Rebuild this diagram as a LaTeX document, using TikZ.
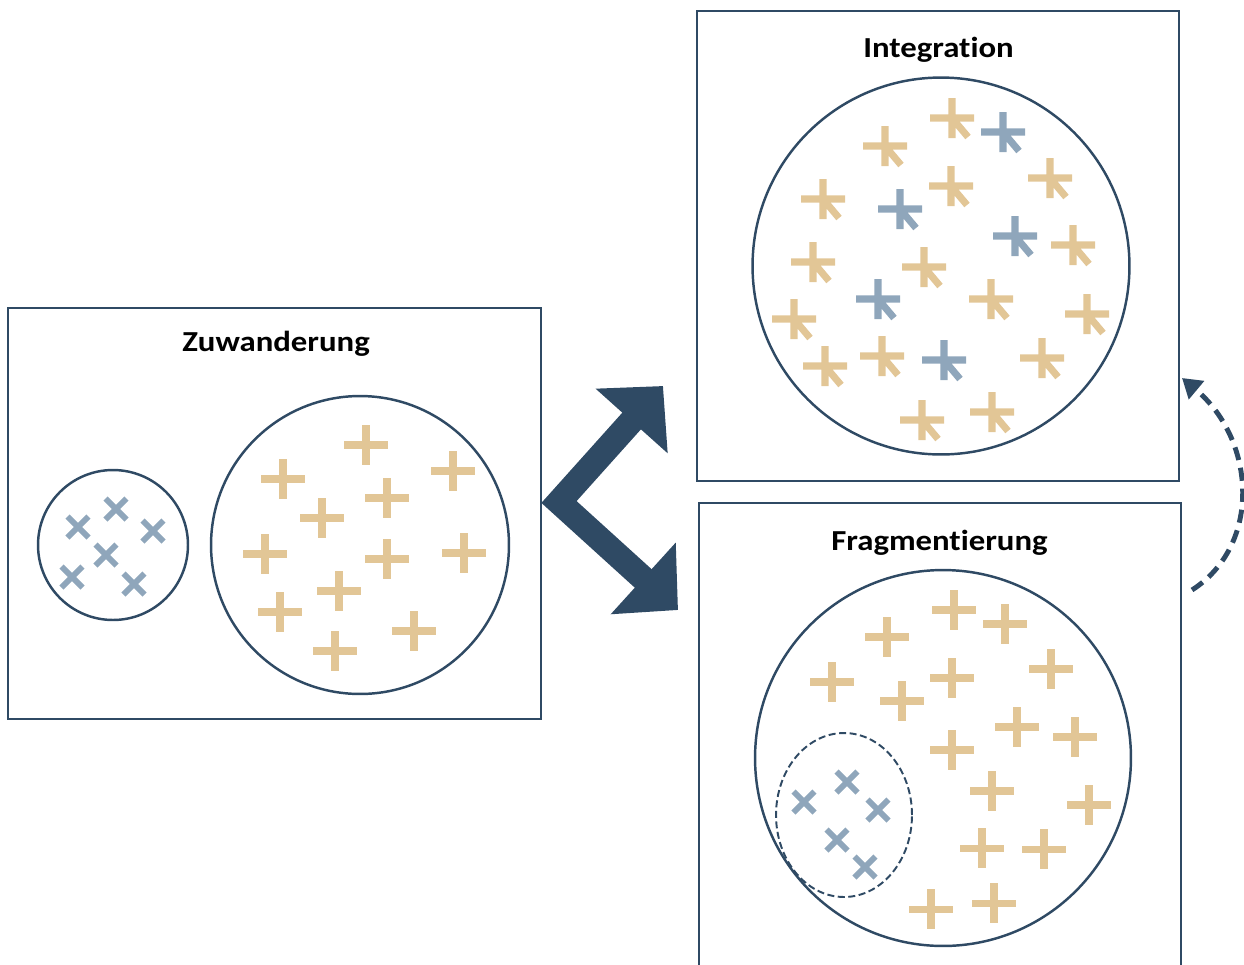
\documentclass[tikz,border=0pt]{standalone}
\usepackage{fontspec}
\setmainfont{Carlito}
\newfontfamily\titlefont{Carlito}[FakeStretch=1.13,Ligatures=NoCommon]
\definecolor{navy}{RGB}{47,74,100}
\definecolor{sand}{RGB}{226,198,150}
\definecolor{slate}{RGB}{143,166,187}
\usetikzlibrary{arrows.meta,shapes.geometric}
\tikzstyle{frame}=[draw=navy,line width=1.1pt,inner sep=0pt]
\tikzstyle{pool}=[draw=navy,line width=1.4pt,circle,inner sep=0pt]
\tikzstyle{title}=[font=\titlefont\bfseries\fontsize{16.5}{19}\selectfont,anchor=base]
\tikzstyle{symbar}=[line width=4pt]
\tikzset{
  pics/plussym/.style={code={\draw[symbar,sand] (-22,0) -- (22,0) (0,-20) -- (0,20);}},
  pics/crosssym/.style={code={\draw[slate,line width=3.4pt] (-10.5,-10.5) -- (10.5,10.5) (-10.5,10.5) -- (10.5,-10.5);}},
  pics/mixsym/.style={code={\draw[symbar,#1] (-22,0) -- (22,0) (0,-20) -- (0,20) (0,0) -- (16,19);}},
}

\begin{document}
\begin{tikzpicture}[x=0.02cm,y=-0.02cm]
\clip (0,0) rectangle (1244,964);

% boxes
\node[frame,minimum width=10.66cm,minimum height=8.22cm] (zuw) at (274.5,513.5) {};
\node[frame,minimum width=9.64cm,minimum height=9.4cm] (integ) at (938,246) {};
\node[frame,minimum width=9.64cm,minimum height=9.4cm] (frag) at (940,738) {};

\node[title] (zuwtitle) at (276,351) {Zuwanderung};
\node[title] (integtitle) at (938.5,57) {Integration};
\node[title] (fragtitle) at (939.5,550) {Fragmentierung};

% groups
\node[pool,minimum size=3cm] (minority) at (113,545) {};
\node[pool,minimum size=5.96cm] (majority) at (360,545) {};
\node[pool,minimum size=7.54cm] (mixed) at (941,266) {};
\node[pool,minimum size=7.52cm] (parted) at (943,758) {};
\node[draw=navy,line width=1.1pt,dash pattern=on 4pt off 2pt,ellipse,inner sep=0pt,
  minimum width=2.72cm,minimum height=3.28cm] (enclave) at (844,815) {};

% members
\foreach \p in {(78,527),(116,509),(153,531),(106,555),(72,577),(134,584)}
  \pic at \p {crosssym};
\foreach \p in {(366,445),(283,479),(453,471),(387,498),(322,518),(265,554),
  (387,559),(464,553),(339,591),(280,612),(414,631),(335,651)}
  \pic at \p {plussym};
\foreach \p in {(952,118),(885,146),(1050,178),(823,199),(951,186),(1073,245),
  (813,262),(924,267),(991,299),(794,319),(1087,314),(825,366),(882,356),
  (1042,358),(922,420),(992,412)}
  \pic at \p {mixsym=sand};
\foreach \p in {(1003,132),(900,209),(1015,236),(878,299),(944,360)}
  \pic at \p {mixsym=slate};
\foreach \p in {(954,610),(1005,624),(887,637),(832,682),(952,678),(1051,669),
  (902,701),(1017,727),(1075,737),(952,750),(992,791),(1089,805),(982,848),
  (1044,849),(931,909),(994,903)}
  \pic at \p {plussym};
\foreach \p in {(804,802),(847,782),(878,810),(837,840),(865,867)}
  \pic at \p {crosssym};

% arrows
\coordinate (fork) at (559,502);
\coordinate (tointeg) at (663,386);
\coordinate (tofrag) at (678,610);
\draw[navy,line width=0.5cm,line join=miter,
  {Triangle[width=1.88cm,length=0.94cm]}-{Triangle[width=1.88cm,length=0.94cm]}]
  (tointeg) -- (fork) -- (tofrag);

\coordinate (fragout) at (1192,590);
\coordinate (integin) at (1182,378);
\draw[navy,line width=2.8pt,dash pattern=on 7.5pt off 4.5pt,
  -{Triangle[width=0.46cm,length=0.38cm]}]
  (fragout) .. controls (1262,545) and (1256,440) .. (integin);
\end{tikzpicture}
\end{document}
